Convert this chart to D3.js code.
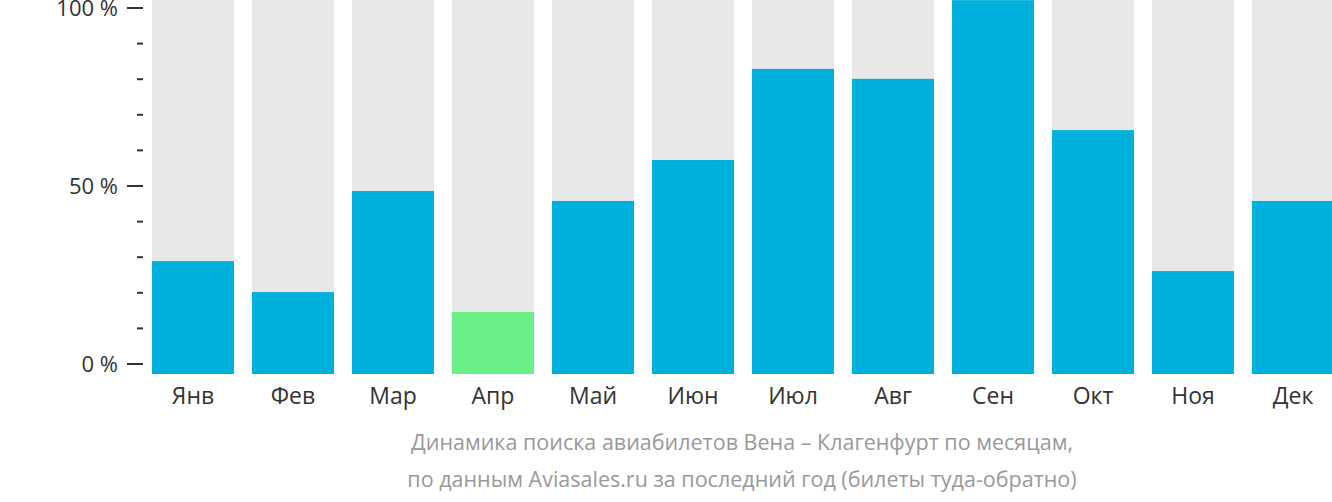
<!DOCTYPE html><html><head><meta charset="utf-8"><script src="https://d3js.org/d3.v7.min.js"></script>
<style>body{margin:0;background:#fff}svg{font-family:"Open Sans",sans-serif}</style></head><body><svg width="1332" height="502"></svg><script>
const months=["Янв","Фев","Мар","Апр","Май","Июн","Июл","Авг","Сен","Окт","Ноя","Дек"];
const values=[28.9,20.2,48.6,14.6,45.8,57.3,82.9,80.1,102.2,65.7,26.1,45.8];
const highlight=["Апр"];
const tickVals=[0,50,100];
const caption=["Динамика поиска авиабилетов Вена – Клагенфурт по месяцам,","по данным Aviasales.ru за последний год (билеты туда-обратно)"];
const svg=d3.select("svg");
const x=d3.scaleBand().domain(months).range([143,1343]).paddingInner(0.18).paddingOuter(0.09);
const y=d3.scaleLinear().domain([0,100]).range([364,8]);
const base=374;
svg.selectAll(".bg").data(months).join("rect").attr("x",d=>x(d)).attr("width",x.bandwidth()).attr("y",0).attr("height",base).attr("fill","#e8e8e8");
svg.selectAll(".b").data(values).join("rect").attr("x",(d,i)=>x(months[i])).attr("width",x.bandwidth())
 .attr("y",d=>Math.max(0,y(d))).attr("height",d=>base-Math.max(0,y(d))).attr("fill",(d,i)=>highlight.includes(months[i])?"#6af087":"#00b0dd");
svg.selectAll(".mt").data(d3.range(0,101,10)).join("line").attr("x1",d=>tickVals.includes(d)?127:137).attr("x2",143)
 .attr("y1",d=>y(d)).attr("y2",d=>y(d)).attr("stroke","#333").attr("stroke-width",2);
svg.selectAll(".tl").data(tickVals).join("text").attr("x",118).attr("y",d=>y(d)).attr("dy","0.35em").attr("text-anchor","end")
 .attr("font-size",22).attr("fill","#333").text(d=>d+" %");
svg.selectAll(".ml").data(months).join("text").attr("x",d=>x(d)+x.bandwidth()/2).attr("y",404).attr("text-anchor","middle")
 .attr("font-size",23).attr("fill","#333").text(d=>d);
svg.selectAll(".cap").data(caption).join("text").attr("x",742).attr("y",(d,i)=>450+i*37).attr("text-anchor","middle")
 .attr("font-size",21.5).attr("fill","#999").text(d=>d);
</script></body></html>
